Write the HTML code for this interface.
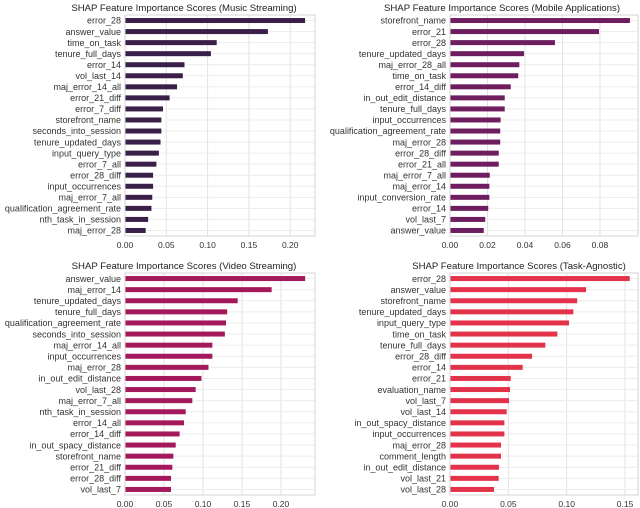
<!DOCTYPE html>
<html><head><meta charset="utf-8"><style>
body{margin:0;background:#fff;width:640px;height:508px;overflow:hidden}
svg{display:block;font-family:"Liberation Sans",sans-serif}
</style></head><body>
<svg id="chart" width="640" height="508"></svg>
<script>
const musicLabels=["error_28","answer_value","time_on_task","tenure_full_days","error_14","vol_last_14","maj_error_14_all","error_21_diff","error_7_diff","storefront_name","seconds_into_session","tenure_updated_days","input_query_type","error_7_all","error_28_diff","input_occurrences","maj_error_7_all","qualification_agreement_rate","nth_task_in_session","maj_error_28"];
const musicValues=[0.218,0.173,0.111,0.104,0.072,0.070,0.063,0.054,0.046,0.044,0.044,0.043,0.041,0.038,0.034,0.034,0.033,0.032,0.028,0.025];
const musicTicks=[0,0.05,0.10,0.15,0.20];
const mobileLabels=["storefront_name","error_21","error_28","tenure_updated_days","maj_error_28_all","time_on_task","error_14_diff","in_out_edit_distance","tenure_full_days","input_occurrences","qualification_agreement_rate","maj_error_28","error_28_diff","error_21_all","maj_error_7_all","maj_error_14","input_conversion_rate","error_14","vol_last_7","answer_value"];
const mobileValues=[0.096,0.0795,0.056,0.0395,0.037,0.0364,0.0324,0.0292,0.0292,0.027,0.0268,0.0268,0.026,0.026,0.0212,0.021,0.021,0.0204,0.0188,0.018];
const mobileTicks=[0,0.02,0.04,0.06,0.08];
const videoLabels=["answer_value","maj_error_14","tenure_updated_days","tenure_full_days","qualification_agreement_rate","seconds_into_session","maj_error_14_all","input_occurrences","maj_error_28","in_out_edit_distance","vol_last_28","maj_error_7_all","nth_task_in_session","error_14_all","error_14_diff","in_out_spacy_distance","storefront_name","error_21_diff","error_28_diff","vol_last_7"];
const videoValues=[0.231,0.188,0.1445,0.131,0.1295,0.128,0.112,0.112,0.107,0.098,0.0906,0.0863,0.0778,0.0756,0.070,0.065,0.062,0.0607,0.059,0.059];
const videoTicks=[0,0.05,0.10,0.15,0.20];
const taskLabels=["error_28","answer_value","storefront_name","tenure_updated_days","input_query_type","time_on_task","tenure_full_days","error_28_diff","error_14","error_21","evaluation_name","vol_last_7","vol_last_14","in_out_spacy_distance","input_occurrences","maj_error_28","comment_length","in_out_edit_distance","vol_last_21","vol_last_28"];
const taskValues=[0.154,0.1166,0.109,0.1057,0.102,0.092,0.0817,0.0703,0.0623,0.052,0.0514,0.0506,0.0486,0.0466,0.0466,0.0437,0.0437,0.042,0.0417,0.0377];
const taskTicks=[0,0.05,0.10,0.15];

const svg=document.getElementById('chart');
const NS='http://www.w3.org/2000/svg';
function mk(tag,attrs,parent){const e=document.createElementNS(NS,tag);for(const k in attrs)e.setAttribute(k,attrs[k]);parent.appendChild(e);return e;}

function panel(cfg){
  const g=mk('g',{},svg);
  
  
  const L=cfg.left,R=cfg.right,T=cfg.top,B=cfg.bottom;
  const xs=v=>L+(v-0)/(cfg.xmax)*(R-L);
  const n=cfg.labels.length, step=(B-T)/n;
  const ys=i=>T+step*(i+0.5);
  const t=mk('text',{x:cfg.titleX,y:T-4,'text-anchor':'middle','font-size':'9.6',fill:'#222'},g);
  t.textContent=cfg.title;
  
  
  cfg.ticks.forEach(v=>{
    const l=mk('line',{x1:xs(v),x2:xs(v),y1:T,y2:B,stroke:'#e2e2e2','stroke-width':1},g);
    
    
    const tt=mk('text',{x:xs(v),y:B+12,'text-anchor':'middle','font-size':'8.5',fill:'#333'},g);
    tt.textContent=v.toFixed(2);
    
    
  });
  cfg.labels.forEach((lab,i)=>{
    const gl=mk('line',{x1:L,x2:R,y1:ys(i),y2:ys(i),stroke:'#ececec','stroke-width':1},g);
    
    
    const r=mk('rect',{x:L,y:ys(i)-2.5,width:xs(cfg.values[i])-L,height:5,fill:cfg.color},g);
    
    
    const tl=mk('text',{x:L-4,y:ys(i)+3.2,'text-anchor':'end','font-size':'9','textLength':'',fill:'#333'},g);
    tl.removeAttribute('textLength');
    tl.textContent=lab;
    
    
  });
  const fr=mk('rect',{x:L,y:T,width:R-L,height:B-T,fill:'none',stroke:'#d6d6d6','stroke-width':1},g);
  
  
}
panel({name:'music-streaming-panel',title:'SHAP Feature Importance Scores (Music Streaming)',titleX:184,labels:musicLabels,values:musicValues,ticks:musicTicks,left:125,right:315,top:15,bottom:236,xmax:0.23,color:'#3a1f48'});
panel({name:'mobile-applications-panel',title:'SHAP Feature Importance Scores (Mobile Applications)',titleX:502,labels:mobileLabels,values:mobileValues,ticks:mobileTicks,left:450,right:638,top:15,bottom:236,xmax:0.1003,color:'#6e1e5e'});
panel({name:'video-streaming-panel',title:'SHAP Feature Importance Scores (Video Streaming)',titleX:184,labels:videoLabels,values:videoValues,ticks:videoTicks,left:125,right:315,top:273,bottom:495,xmax:0.2436,color:'#a3195b'});
panel({name:'task-agnostic-panel',title:'SHAP Feature Importance Scores (Task-Agnostic)',titleX:519,labels:taskLabels,values:taskValues,ticks:taskTicks,left:450,right:638,top:273,bottom:495,xmax:0.1611,color:'#e3334a'});
</script>
</body></html>
